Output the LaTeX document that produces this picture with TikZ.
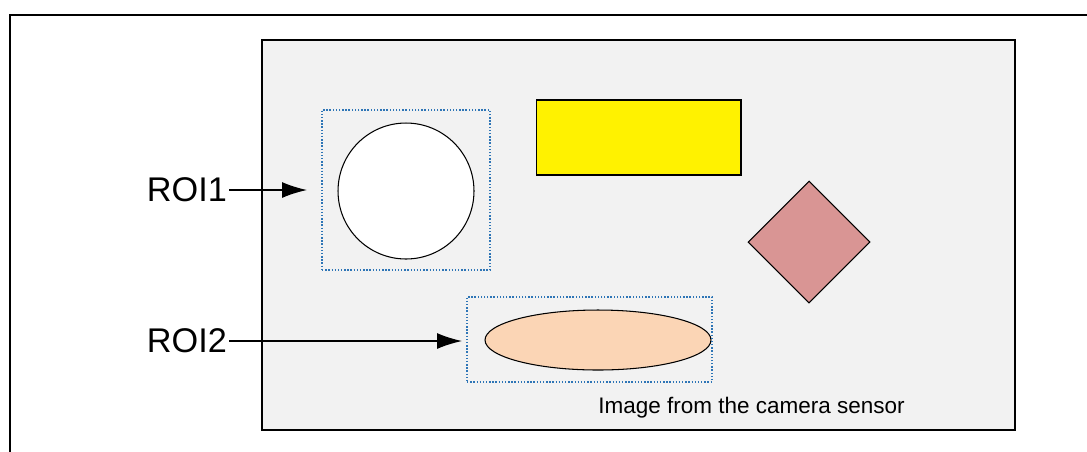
\documentclass[tikz,border=0pt]{standalone}
\usepackage{fontspec}
\setmainfont{Liberation Sans}
\usetikzlibrary{shapes.geometric, arrows.meta}
\definecolor{imgbg}{HTML}{F2F2F2}
\definecolor{roiblue}{HTML}{2E75B6}
\definecolor{rosy}{HTML}{D99594}
\definecolor{peach}{HTML}{FBD5B5}
\tikzset{
  roi/.style={draw=roiblue, densely dotted, thick},
  obj/.style={draw=black, line width=0.6pt},
  roilabel/.style={font=\fontsize{19.5}{22}\selectfont, anchor=east, inner sep=1pt},
  pointer/.style={-{Latex[length=5mm, width=3.2mm]}, line width=0.8pt}
}
\begin{document}
\begin{tikzpicture}[x=0.02cm, y=-0.02cm]

        % Page size
        \useasboundingbox (0,0) rectangle (1087,451);

        % Outer frame
        \draw[line width=1pt] (1100,15) -- (10,15) -- (10,470);

        % Image from the sensor
        \draw[obj, fill=imgbg] (262,40) rectangle (1015,430);
        \node[anchor=south west, font=\fontsize{12.8}{15}\selectfont, inner sep=0] (cap) at (598,419) {Image from the camera sensor};

        % Objects
        \node[obj, circle, fill=white, minimum size=2.72cm, inner sep=0] (circ) at (406,191) {};
        \node[obj, rectangle, fill=yellow, minimum width=4.1cm, minimum height=1.5cm] (rect) at (638.5,137.5) {};
        \node[obj, diamond, fill=rosy, minimum size=2.44cm, inner sep=0] (dia) at (809,242) {};
        \node[obj, ellipse, fill=peach, minimum width=4.52cm, minimum height=1.2cm, inner sep=0] (ell) at (598,340) {};

        % Regions of interest
        \node[roi, minimum width=3.36cm, minimum height=3.2cm] (roi1) at (406,190) {};
        \node[roi, minimum width=4.9cm, minimum height=1.7cm] (roi2) at (589.5,339.5) {};

        % Labels with arrows
        \node[roilabel] (l1) at (229,190) {ROI1};
        \node[roilabel] (l2) at (229,341) {ROI2};
        \coordinate (t1) at (307,190);
        \coordinate (t2) at (462,341);
        \draw[pointer] (l1.east) -- (t1);
        \draw[pointer] (l2.east) -- (t2);

      \end{tikzpicture}
\end{document}
